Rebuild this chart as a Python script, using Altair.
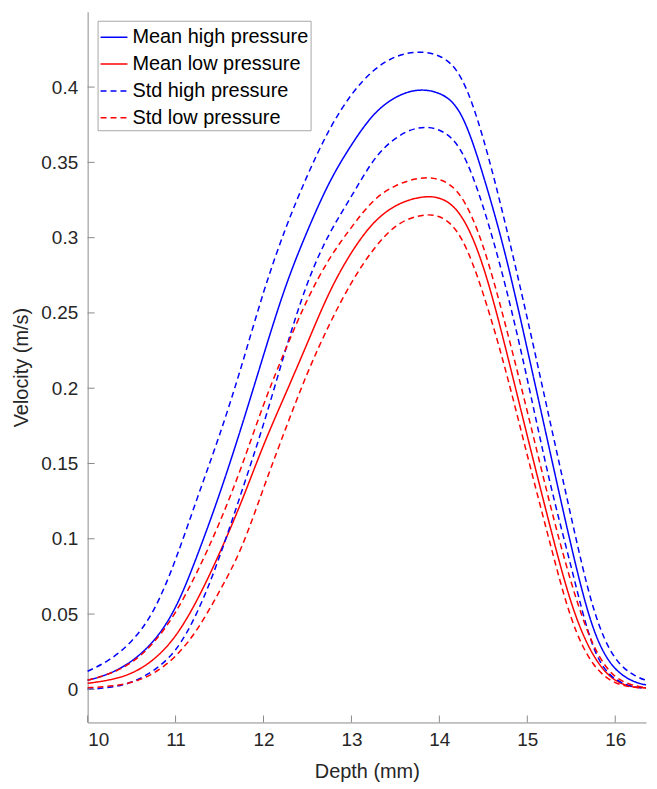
import altair as alt
import pandas as pd

# ---- data ----
depth = [10.0, 10.25, 10.5, 10.75, 11.0, 11.25, 11.5, 11.75, 12.0, 12.25, 12.5, 12.75,
         13.0, 13.25, 13.5, 13.75, 14.0, 14.25, 14.5, 14.75, 15.0, 15.25, 15.5, 15.75,
         16.0, 16.25, 16.35]

mean_high = [0.006, 0.010, 0.018, 0.031, 0.052, 0.089, 0.129, 0.174, 0.222, 0.269, 0.305, 0.338,
             0.362, 0.383, 0.394, 0.399, 0.397, 0.387, 0.342, 0.291, 0.226, 0.160, 0.094, 0.035,
             0.011, 0.004, 0.003]
std_high_upper = [0.012, 0.019, 0.031, 0.050, 0.085, 0.128, 0.168, 0.214, 0.265, 0.307, 0.342, 0.373,
                  0.396, 0.412, 0.421, 0.424, 0.422, 0.411, 0.368, 0.310, 0.247, 0.180, 0.114, 0.049,
                  0.017, 0.008, 0.006]
std_high_lower = [0.000, 0.001, 0.004, 0.012, 0.024, 0.050, 0.087, 0.131, 0.175, 0.226, 0.272, 0.304,
                  0.327, 0.353, 0.367, 0.374, 0.373, 0.362, 0.322, 0.270, 0.207, 0.137, 0.082, 0.021,
                  0.005, 0.001, 0.001]
mean_low = [0.004, 0.006, 0.010, 0.019, 0.034, 0.059, 0.090, 0.124, 0.163, 0.196, 0.230, 0.265,
            0.291, 0.311, 0.322, 0.327, 0.328, 0.318, 0.284, 0.228, 0.168, 0.110, 0.054, 0.020,
            0.004, 0.001, 0.001]
std_low_upper = [0.006, 0.010, 0.017, 0.030, 0.050, 0.078, 0.110, 0.147, 0.190, 0.226, 0.260, 0.287,
                 0.307, 0.326, 0.335, 0.340, 0.340, 0.331, 0.297, 0.243, 0.185, 0.124, 0.069, 0.026,
                 0.006, 0.002, 0.001]
std_low_lower = [0.001, 0.002, 0.004, 0.010, 0.021, 0.039, 0.065, 0.092, 0.134, 0.173, 0.211, 0.243,
                 0.271, 0.293, 0.309, 0.315, 0.316, 0.304, 0.264, 0.214, 0.155, 0.099, 0.043, 0.014,
                 0.003, 0.001, 0.001]

series_names = ["Mean high pressure", "Mean low pressure", "Std high pressure", "Std low pressure"]
y_ticks = [0, 0.05, 0.1, 0.15, 0.2, 0.25, 0.3, 0.35, 0.4]
x_ticks = [10, 11, 12, 13, 14, 15, 16]

curves = [
    ("Mean high pressure", "mh", mean_high),
    ("Mean low pressure", "ml", mean_low),
    ("Std high pressure", "shu", std_high_upper),
    ("Std high pressure", "shl", std_high_lower),
    ("Std low pressure", "slu", std_low_upper),
    ("Std low pressure", "sll", std_low_lower),
]
rows = []
for i, (name, cid, vals) in enumerate(curves):
    for d, v in zip(depth, vals):
        rows.append({"depth": d, "velocity": v, "series": name, "curve": f"{i}_{cid}"})
df = pd.DataFrame(rows)

FONT = "Liberation Sans"
AXIS_COLOR = "#8a8a8a"
TEXT_COLOR = "#262626"

x_scale = alt.Scale(domain=[10, 16.35], nice=False, zero=False)
y_scale = alt.Scale(domain=[-0.022, 0.45], nice=False, zero=False)

x_axis = alt.Axis(values=x_ticks, format="d", title="Depth (mm)", ticks=False,
                  grid=False, labelPadding=8, titlePadding=12)
y_axis = alt.Axis(values=y_ticks, format="~g", title="Velocity (m/s)", ticks=False,
                  grid=False, labelPadding=10, titlePadding=6,
                  minExtent=50, maxExtent=50)

legend = alt.Legend(
    title=None, orient="none", legendX=10, legendY=9,
    symbolType="stroke", symbolSize=729, symbolStrokeWidth=1.5,
    labelFont=FONT, labelFontSize=20, labelColor="#000000", labelLimit=400,
    strokeColor="#a6a6a6", fillColor="white", padding=2,
    rowPadding=2, labelOffset=4,
)

lines = alt.Chart(df).mark_line(strokeWidth=1.5, interpolate="basis").encode(
    x=alt.X("depth:Q", scale=x_scale, axis=x_axis),
    y=alt.Y("velocity:Q", scale=y_scale, axis=y_axis),
    color=alt.Color("series:N",
                    scale=alt.Scale(domain=series_names,
                                    range=["#0000ff", "#ff0000", "#0000ff", "#ff0000"]),
                    legend=legend),
    strokeDash=alt.StrokeDash("series:N",
                              scale=alt.Scale(domain=series_names,
                                              range=[[1, 0], [1, 0], [6, 4], [6, 4]]),
                              legend=legend),
    detail="curve:N",
)

ytick_df = pd.DataFrame({"velocity": y_ticks})
xtick_df = pd.DataFrame({"depth": x_ticks})

yticks = alt.Chart(ytick_df).mark_rule(color=AXIS_COLOR, strokeWidth=1).encode(
    y=alt.Y("velocity:Q", scale=y_scale, axis=y_axis),
    x=alt.value(0), x2=alt.value(7),
)
xticks = alt.Chart(xtick_df).mark_rule(color=AXIS_COLOR, strokeWidth=1).encode(
    x=alt.X("depth:Q", scale=x_scale, axis=x_axis),
    y=alt.value(714), y2=alt.value(707),
)

chart = alt.layer(lines, yticks, xticks).properties(
    width=561, height=714,
    padding={"left": 4, "top": 2, "right": 0, "bottom": 0},
).configure_view(stroke=None).configure_axis(
    domainColor=AXIS_COLOR, domainWidth=1,
    labelFont=FONT, labelFontSize=19, labelColor=TEXT_COLOR,
    titleFont=FONT, titleFontSize=20, titleColor=TEXT_COLOR, titleFontWeight="normal",
)

chart.save("out.html", embed_options={"renderer": "svg", "actions": False})
